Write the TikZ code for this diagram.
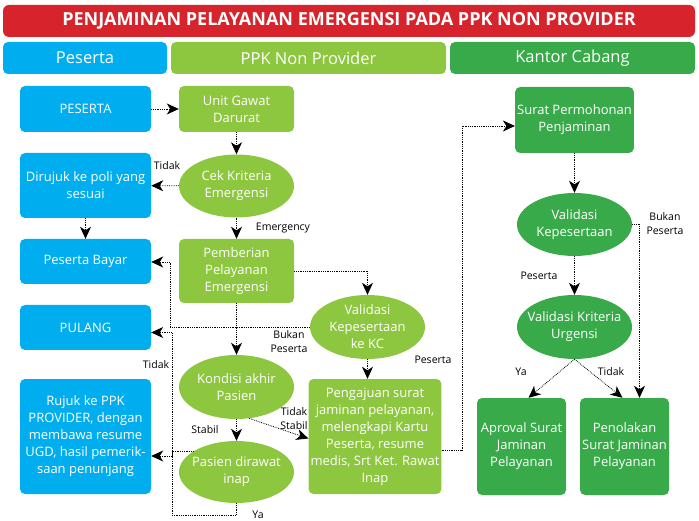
\documentclass[tikz,border=0pt]{standalone}
\usepackage{fontspec}
\setmainfont{Open Sans}
\usetikzlibrary{shapes.geometric,arrows.meta}
\definecolor{birupeserta}{RGB}{0,174,239}
\definecolor{hijauppk}{RGB}{141,198,63}
\definecolor{hijaukc}{RGB}{57,170,73}
\definecolor{merahjudul}{RGB}{215,35,43}
\tikzset{
    kotak/.style={rounded corners=5pt, text=white, align=center, inner sep=2pt, font=\fontsize{13}{17}\selectfont},
    oval/.style={ellipse, text=white, align=center, inner xsep=-12pt, inner ysep=-6pt, minimum width=115pt, minimum height=64pt, font=\fontsize{13}{17}\selectfont},
    kolom/.style={rounded corners=5pt, text=white, minimum height=32pt, font=\fontsize{16.5}{20}\selectfont},
    alur/.style={densely dotted, line width=0.8pt, -{Stealth[length=12pt,width=11pt,inset=3.5pt]}},
    ket/.style={align=center, inner sep=0pt, font=\fontsize{10.5}{14}\selectfont}
}
\begin{document}
\begin{tikzpicture}[x=1pt,y=-1pt]
        \useasboundingbox (0,0) rectangle (699,521);
        \node[fill=merahjudul, rounded corners=6pt, text=white, minimum width=692pt, minimum height=32pt, font=\bfseries\fontsize{18}{20}\selectfont] (judul) at (349,21) {PENJAMINAN PELAYANAN EMERGENSI PADA PPK NON PROVIDER};
        \node[kolom, fill=birupeserta, minimum width=164pt] (kolpeserta) at (85,58) {Peserta};
        \node[kolom, fill=hijauppk, minimum width=275pt] (kolppk) at (308.5,58) {PPK Non Provider};
        \node[kolom, fill=hijaukc, minimum width=245pt] (kolkc) at (572.5,58) {Kantor Cabang};

        \node[kotak, fill=birupeserta, minimum width=131pt, minimum height=46pt] (peserta) at (85.5,109) {PESERTA};
        \node[kotak, fill=birupeserta, minimum width=131pt, minimum height=65pt] (dirujuk) at (85.5,185.5) {Dirujuk ke poli yang\\sesuai};
        \node[kotak, fill=birupeserta, minimum width=131pt, minimum height=45pt] (bayar) at (85.5,261.5) {Peserta Bayar};
        \node[kotak, fill=birupeserta, minimum width=131pt, minimum height=45pt] (pulang) at (85.5,327.5) {PULANG};
        \node[kotak, fill=birupeserta, minimum width=131pt, minimum height=115pt] (rujuk) at (85.5,436.5) {Rujuk ke PPK\\PROVIDER, dengan\\membawa resume\\UGD, hasil pemerik-\\saan penunjang};

        \node[kotak, fill=hijauppk, minimum width=115pt, minimum height=46pt] (ugd) at (236.5,109) {Unit Gawat\\Darurat};
        \node[oval, fill=hijauppk, minimum height=63pt] (cek) at (236.5,186) {Cek Kriteria\\Emergensi};
        \node[kotak, fill=hijauppk, minimum width=115pt, minimum height=64pt] (pemberian) at (236.5,271) {Pemberian\\Pelayanan\\Emergensi};
        \node[oval, fill=hijauppk] (kondisi) at (236.5,387) {Kondisi akhir\\Pasien};
        \node[oval, fill=hijauppk, minimum height=62pt] (inap) at (236.5,472) {Pasien dirawat\\inap};
        \node[oval, fill=hijauppk] (valkc) at (367.5,327) {Validasi\\Kepesertaan\\ke KC};
        \node[kotak, fill=hijauppk, minimum width=132pt, minimum height=115pt] (pengajuan) at (375,436.5) {Pengajuan surat\\jaminan pelayanan,\\melengkapi Kartu\\Peserta, resume\\medis, Srt Ket. Rawat\\Inap};

        \node[kotak, fill=hijaukc, minimum width=115pt, minimum height=66pt] (surat) at (574.5,120) {Surat Permohonan\\Penjaminan};
        \node[oval, fill=hijaukc, minimum height=63pt] (valkep) at (574.5,224.5) {Validasi\\Kepesertaan};
        \node[oval, fill=hijaukc] (valurg) at (574.5,327) {Validasi Kriteria\\Urgensi};
        \node[kotak, fill=hijaukc, minimum width=89pt, minimum height=97pt] (aproval) at (521.5,446.5) {Aproval Surat\\Jaminan\\Pelayanan};
        \node[kotak, fill=hijaukc, minimum width=89pt, minimum height=97pt] (penolakan) at (624.5,446.5) {Penolakan\\Surat Jaminan\\Pelayanan};

        \coordinate (tkbayar) at (170,262);
        \coordinate (tkbawah) at (172,515);
        \coordinate (tkrujuk) at (172,456);
        \coordinate (tkkc) at (462,126);

        \draw[alur] (peserta) -- (ugd);
        \draw[alur] (ugd) -- (cek);
        \draw[alur] (cek) -- (dirujuk);
        \draw[alur] (dirujuk) -- (bayar);
        \draw[alur] (cek) -- (pemberian);
        \draw[alur] (pemberian.east) -| (valkc.north);
        \draw[alur] (valkc.west) -| (tkbayar) -- (tkbayar -| bayar.east);
        \draw[alur] (pemberian) -- (kondisi);
        \draw[alur] (valkc.south) -- (valkc.south |- pengajuan.north);
        \draw[alur] (kondisi) -- (inap);
        \draw[alur] (kondisi.-68) -- ([yshift=-2pt]pengajuan.west);
        \draw[alur] (inap.south) |- (tkbawah) |- ([yshift=-5pt]pulang.east);
        \draw[alur] (inap.154) -| (tkrujuk) -- (tkrujuk -| rujuk.east);
        \draw[alur] ([yshift=-14pt]pengajuan.east) -| (tkkc) -- (tkkc -| surat.west);
        \draw[alur] (surat) -- (valkep);
        \draw[alur] (valkep.east) -| ([xshift=15pt]penolakan.north);
        \draw[alur] (valkep) -- (valurg);
        \draw[alur] (valurg.south) -- ([xshift=7pt]aproval.north);
        \draw[alur] (valurg.south) -- ([xshift=-2pt]penolakan.north);

        \node[ket] (kettidak1) at (167,166) {Tidak};
        \node[ket] (ketemergency) at (283,228) {Emergency};
        \node[ket] (ketbukan1) at (289,342) {Bukan\\Peserta};
        \node[ket] (ketpeserta1) at (433,360) {Peserta};
        \node[ket] (kettidak2) at (156,365) {Tidak};
        \node[ket] (ketstabil) at (205,430) {Stabil};
        \node[ket] (kettidakstabil) at (294,419) {Tidak\\Stabil};
        \node[ket] (ketya1) at (258,515) {Ya};
        \node[ket] (ketbukan2) at (665,224) {Bukan\\Peserta};
        \node[ket] (ketpeserta2) at (539,276) {Peserta};
        \node[ket] (ketya2) at (521,372) {Ya};
        \node[ket] (kettidak3) at (611,372) {Tidak};
\end{tikzpicture}
\end{document}
